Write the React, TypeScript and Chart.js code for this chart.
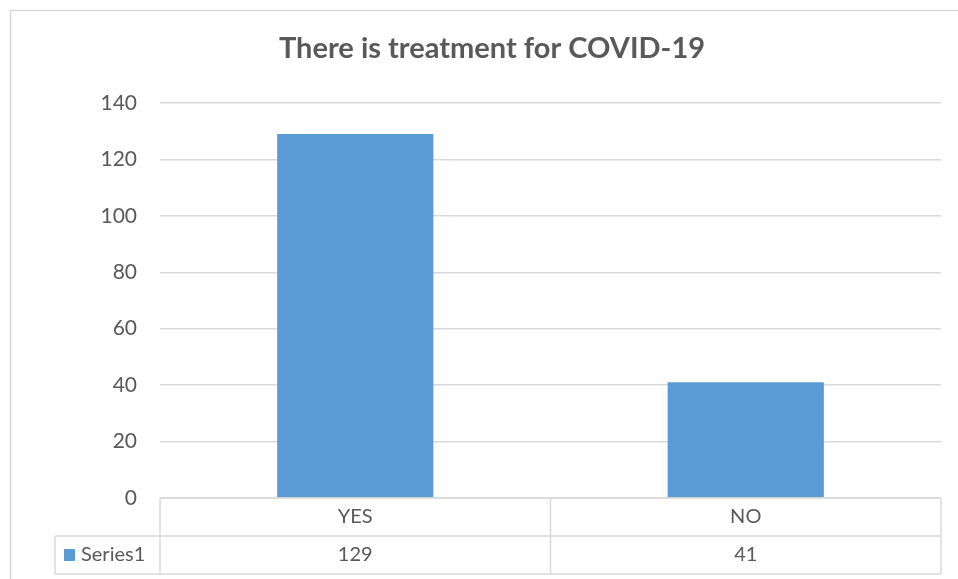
import React, { useEffect, useRef } from "react";
import { Chart, registerables } from "chart.js";

Chart.register(...registerables);

const chartTitle = "There is treatment for COVID-19";
const categories = ["YES", "NO"];
const seriesName = "Series1";
const seriesValues = [129, 41];
const yTicks = [0, 20, 40, 60, 80, 100, 120, 140];

const FONT = "Lato, 'Open Sans', sans-serif";
const TEXT = "#595959";
const LINE = "#D9D9D9";
const BAR = "#5B9BD5";

// Frame and title of the chart, plus the data table under the plot.
const tablePlugin = {
  id: "dataTable",
  beforeDraw(chart: any) {
    const { ctx, width, height } = chart;
    ctx.save();
    ctx.fillStyle = "#ffffff";
    ctx.fillRect(0, 0, width, height);
    ctx.strokeStyle = LINE;
    ctx.lineWidth = 1.5;
    ctx.strokeRect(10.5, 10.5, width + 40, height + 40);

    ctx.fillStyle = TEXT;
    ctx.font = `bold 29px ${FONT}`;
    ctx.textAlign = "center";
    ctx.textBaseline = "alphabetic";
    ctx.fillText(chartTitle, 492, 58);
    ctx.restore();
  },
  afterDraw(chart: any) {
    const { ctx, chartArea } = chart;
    const x = chart.scales.x;
    const top = chartArea.bottom;
    const rowH = 38;
    const mid = top + rowH;
    const bottom = mid + rowH;
    const left = chartArea.left;
    const right = chartArea.right;
    const labelLeft = 55;

    ctx.save();
    ctx.strokeStyle = LINE;
    ctx.lineWidth = 1.5;
    ctx.beginPath();
    ctx.moveTo(left, top);
    ctx.lineTo(right, top);
    ctx.moveTo(labelLeft, mid);
    ctx.lineTo(right, mid);
    ctx.moveTo(labelLeft, bottom);
    ctx.lineTo(right, bottom);
    ctx.moveTo(labelLeft, mid);
    ctx.lineTo(labelLeft, bottom);
    ctx.moveTo(left, top);
    ctx.lineTo(left, bottom);
    const step = x.getPixelForValue(1) - x.getPixelForValue(0);
    for (let i = 0; i < categories.length; i++) {
      const edge = x.getPixelForValue(i) + step / 2;
      ctx.moveTo(edge, top);
      ctx.lineTo(edge, bottom);
    }
    ctx.stroke();

    ctx.fillStyle = TEXT;
    ctx.font = `20px ${FONT}`;
    ctx.textAlign = "center";
    ctx.textBaseline = "middle";
    categories.forEach((c, i) => {
      const cx = x.getPixelForValue(i);
      ctx.fillText(c, cx, top + rowH / 2);
      ctx.fillText(String(seriesValues[i]), cx, mid + rowH / 2);
    });

    ctx.fillStyle = BAR;
    ctx.fillRect(64, mid + 13, 11, 12);
    ctx.fillStyle = TEXT;
    ctx.textAlign = "left";
    ctx.fillText(seriesName, 81, mid + rowH / 2);
    ctx.restore();
  },
};

export default function App() {
  const ref = useRef<HTMLCanvasElement>(null);

  useEffect(() => {
    const chart = new Chart(ref.current!, {
      type: "bar",
      data: {
        labels: categories,
        datasets: [
          {
            label: seriesName,
            data: seriesValues,
            backgroundColor: BAR,
            barPercentage: 0.4,
            categoryPercentage: 1,
          },
        ],
      },
      options: {
        animation: false,
        responsive: false,
        layout: { padding: { left: 0, right: 17, top: 103, bottom: 5 } },
        plugins: {
          legend: { display: false },
          tooltip: { enabled: false },
          title: { display: false },
        },
        scales: {
          x: {
            grid: { display: false },
            border: { display: false },
            ticks: { display: false },
            afterFit(scale: any) {
              scale.height = 76;
            },
          },
          y: {
            min: 0,
            max: 140,
            afterBuildTicks(scale: any) {
              scale.ticks = yTicks.map((v) => ({ value: v }));
            },
            grid: { color: LINE, lineWidth: 1.5, drawTicks: false },
            border: { display: false },
            ticks: {
              color: TEXT,
              padding: 23,
              font: { family: FONT, size: 21 },
            },
            afterFit(scale: any) {
              scale.width = 160;
            },
          },
        },
      },
      plugins: [tablePlugin],
    });
    return () => chart.destroy();
  }, []);

  return (
    <div style={{ position: "fixed", left: 0, top: 0, width: 958, height: 579 }}>
      <canvas ref={ref} width={958} height={579} style={{ display: "block" }} />
    </div>
  );
}
